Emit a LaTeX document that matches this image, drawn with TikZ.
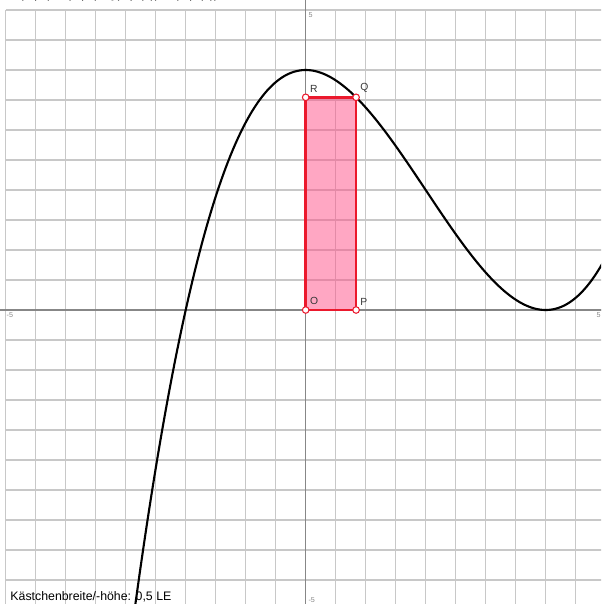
\documentclass[tikz,border=0pt]{standalone}
\usepackage{fontspec}
\setmainfont{Liberation Sans}
\usetikzlibrary{positioning,calc}
\definecolor{GridGray}{RGB}{200,200,200}
\definecolor{AxisGray}{RGB}{135,135,135}
\definecolor{RectRed}{RGB}{235,25,45}
\definecolor{RectPink}{RGB}{255,80,135}
\definecolor{LabelGray}{RGB}{55,55,55}

\begin{document}
\begin{tikzpicture}[x=1cm,y=1cm,
  ptlabel/.style={text=LabelGray,font=\fontsize{4.9}{5.5}\selectfont,inner sep=0.6pt},
  ticklabel/.style={text=AxisGray,font=\fontsize{3.4}{4}\selectfont,inner sep=0pt},
  punkt/.style={circle,draw=RectRed,fill=white,line width=0.5pt,inner sep=0pt,minimum size=0.11cm}]
  \useasboundingbox (-5.095,-4.9) rectangle (4.922,5.167);
  \clip (-5.095,-4.9) rectangle (4.922,5.167);
  \draw[GridGray,line width=0.5pt,step=0.5] (-5,-5) grid (5,5);
  \draw[AxisGray,line width=0.6pt] (-5.2,0) -- (5.2,0);
  \draw[AxisGray,line width=0.6pt] (0,-5.2) -- (0,5.3);
  \node[ticklabel,anchor=north west] (xmin) at (-4.99,-0.04) {-5};
  \node[ticklabel,anchor=north west] (xmax) at (4.84,-0.04) {5};
  \node[ticklabel,anchor=south west] (ymax) at (0.04,4.87) {5};
  \node[ticklabel,anchor=south west] (ymin) at (0.04,-4.88) {-5};
  \pgfmathsetmacro{\uval}{0.84}
  \pgfmathsetmacro{\fuval}{(\uval)^3/8-0.75*(\uval)^2+4}
  \coordinate (pO) at (0,0);
  \coordinate (pP) at (\uval,0);
  \coordinate (pQ) at (\uval,\fuval);
  \coordinate (pR) at (0,\fuval);
  \fill[RectPink,fill opacity=0.5] (pO) rectangle (pQ);
  \node[anchor=base west,font=\fontsize{5.85}{7}\selectfont] (note) at (-5.045,-4.835) {Kästchenbreite/-höhe: 0,5 LE};
  \node[anchor=base west,font=\fontsize{5.85}{7}\selectfont] (head) at (-5.05,5.19) {O(0 | 0), P(u | 0), Q(u | f(u)), R(0 | f(u))};
  \draw[black,line width=1pt,domain=-3:5.1,samples=200] plot (\x,{(\x)^3/8-0.75*(\x)^2+4});
  \draw[RectRed,line width=1.2pt] (pO) -- (pP) -- (pQ) -- (pR) -- cycle;
  \node[punkt] (O) at (pO) {};
  \node[punkt] (P) at (pP) {};
  \node[punkt] (Q) at (pQ) {};
  \node[punkt] (R) at (pR) {};
  \node[ptlabel,above right=0.01cm and 0cm of O] (lO) {O};
  \node[ptlabel,above right=0.01cm and 0cm of P] (lP) {P};
  \node[ptlabel,above right=0.01cm and 0cm of Q] (lQ) {Q};
  \node[ptlabel,above right=0.01cm and 0cm of R] (lR) {R};
\end{tikzpicture}
\end{document}
